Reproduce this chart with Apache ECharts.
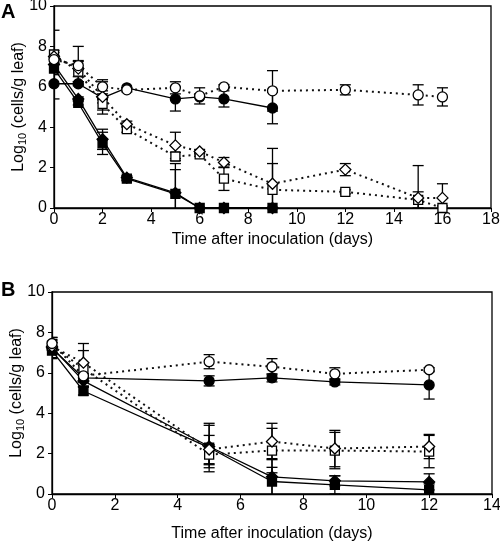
<!DOCTYPE html>
<html><head><meta charset="utf-8">
<script src="https://cdn.jsdelivr.net/npm/echarts@6/dist/echarts.min.js"></script>
<style>html,body{margin:0;padding:0;background:#fff}#c{width:500px;height:545px}</style>
</head><body><div id="c"></div>
<script>
// ---------- Panel A data ----------
const daysA8 = [0, 1, 2, 3, 5, 6, 7, 9];
const daysA11 = [0, 1, 2, 3, 5, 6, 7, 9, 12, 15, 16];
const filledCircleA = [6.15, 6.15, 5.45, 5.95, 5.4, 5.5, 5.4, 4.95];
const filledCircleAErr = [0, 0.1, 0.8, 0, 0.6, 0, 0.4, 0.78];
const filledDiamondA = [7.1, 5.4, 3.4, 1.5, 0.75, 0, 0, 0];
const filledDiamondAErr = [1.7, 0.1, 0.5, 0.1, 1.45, 0, 0, 0];
const filledSquareA = [6.9, 5.2, 3.2, 1.45, 0.7, 0, 0, 0];
const filledSquareAErr = [0.3, 0.1, 0.55, 0.1, 1.2, 0, 0, 0];
const openCircleA = [7.35, 7.05, 6.0, 5.85, 5.95, 5.55, 6.0, 5.8, 5.85, 5.6, 5.5];
const openCircleAErr = [0.2, 0.95, 0.35, 0.1, 0.3, 0.4, 0.1, 1.0, 0.25, 0.5, 0.45];
const openDiamondA = [7.5, 6.9, 5.5, 4.15, 3.1, 2.8, 2.25, 1.2, 1.9, 0.5, 0.5];
const openDiamondAErr = [0.2, 0.4, 0.3, 0.15, 0.65, 0.1, 0.25, 1.75, 0.3, 1.6, 0.7];
const openSquareA = [7.6, 6.75, 5.15, 3.9, 2.55, 2.65, 1.45, 0.9, 0.8, 0.4, 0.0];
const openSquareAErr = [0.2, 0.5, 0.3, 0.15, 0.2, 0.1, 0.58, 1.3, 0.1, 0.4, 0.1];

// ---------- Panel B data ----------
const daysB = [0, 1, 5, 7, 9, 12];
const filledCircleB = [7.2, 5.75, 5.6, 5.75, 5.55, 5.4];
const filledCircleBErr = [0.3, 0.2, 0.25, 0.2, 0.15, 0.7];
const filledDiamondB = [7.25, 5.6, 2.35, 0.85, 0.65, 0.6];
const filledDiamondBErr = [0.5, 0.3, 1.05, 0.9, 0.25, 0.4];
const filledSquareB = [7.1, 5.1, 2.3, 0.62, 0.45, 0.2];
const filledSquareBErr = [0.4, 0.2, 1.2, 0.7, 0.45, 0.3];
const openCircleB = [7.45, 5.85, 6.55, 6.3, 5.95, 6.15];
const openCircleBErr = [0.3, 0.5, 0.35, 0.4, 0.3, 0.1];
const openDiamondB = [7.3, 6.5, 2.2, 2.6, 2.25, 2.35];
const openDiamondBErr = [0.3, 0.95, 0.7, 0.9, 0.9, 0.6];
const openSquareB = [7.35, 6.2, 1.95, 2.15, 2.15, 2.1];
const openSquareBErr = [0.3, 0.9, 0.5, 1.1, 0.9, 0.8];

// ---------- tick labels / axis text ----------
const yTicks = [0, 2, 4, 6, 8, 10];
const xMaxA = 18, xMaxB = 14;
const xTitle = 'Time after inoculation (days)';
const panelLabels = ['A', 'B'];

const FONT = 'Liberation Sans, Arial, sans-serif';

function pairs(days, vals) { return days.map((d, i) => [d, vals[i]]); }
function triples(days, vals, errs) {
  return days.map((d, i) => [d, vals[i], errs[i]]).filter(t => t[2] > 0);
}

function lineSeries(g, days, vals, symbol, filled, dotted, size) {
  return {
    type: 'line', xAxisIndex: g, yAxisIndex: g,
    data: pairs(days, vals),
    symbol: symbol, symbolSize: size, showSymbol: true,
    itemStyle: { color: filled ? '#000' : '#fff', borderColor: '#000', borderWidth: 1.3 },
    lineStyle: dotted ? { color: '#111', width: 2, type: [2, 4], cap: 'butt' }
                      : { color: '#000', width: 1.3, type: 'solid' },
    z: dotted ? 4 : 3, animation: false, silent: true
  };
}

function errSeries(g, days, vals, errs) {
  return {
    type: 'custom', xAxisIndex: g, yAxisIndex: g, clip: true,
    data: triples(days, vals, errs), z: 2, animation: false, silent: true,
    renderItem: function (params, api) {
      const x = api.value(0), y = api.value(1), e = api.value(2);
      const t = api.coord([x, y + e]);
      const b = api.coord([x, y - e]);
      const w = 5.5;
      const st = { stroke: '#000', lineWidth: 1.3 };
      return {
        type: 'group', children: [
          { type: 'line', shape: { x1: t[0], y1: t[1], x2: b[0], y2: b[1] }, style: st },
          { type: 'line', shape: { x1: t[0] - w, y1: t[1], x2: t[0] + w, y2: t[1] }, style: st },
          { type: 'line', shape: { x1: b[0] - w, y1: b[1], x2: b[0] + w, y2: b[1] }, style: st }
        ]
      };
    }
  };
}

function xAxisDef(g, max, gap) {
  return {
    gridIndex: g, type: 'value', min: 0, max: max, interval: 2,
    name: xTitle, nameLocation: 'middle', nameGap: gap, nameMoveOverlap: false,
    nameTextStyle: { fontFamily: FONT, fontSize: 16, color: '#000' },
    axisLine: { lineStyle: { color: '#000', width: 1.3 } },
    axisTick: { show: true, inside: false, length: 4, lineStyle: { color: '#000' } },
    axisLabel: { fontFamily: FONT, fontSize: 16, color: '#000', margin: 4 },
    splitLine: { show: false }
  };
}
function yAxisDef(g, gap) {
  return {
    gridIndex: g, type: 'value', min: yTicks[0], max: yTicks[yTicks.length - 1], interval: 2,
    name: '{a|Log}{s|10}{a| (cells/g leaf)}', nameLocation: 'middle', nameGap: gap, nameMoveOverlap: false,
    nameTextStyle: {
      fontFamily: FONT, color: '#000',
      rich: {
        a: { fontFamily: FONT, fontSize: 16, color: '#000' },
        s: { fontFamily: FONT, fontSize: 11, color: '#000', verticalAlign: 'bottom', padding: [8, 0, 0, 0] }
      }
    },
    axisLine: { lineStyle: { color: '#000', width: 1.3 } },
    axisTick: { show: true, inside: false, length: 4, lineStyle: { color: '#000' } },
    axisLabel: { fontFamily: FONT, fontSize: 16, color: '#000', margin: 7 },
    splitLine: { show: false }
  };
}

const series = [
  // panel A error bars
  errSeries(0, daysA8, filledCircleA, filledCircleAErr),
  errSeries(0, daysA8, filledDiamondA, filledDiamondAErr),
  errSeries(0, daysA8, filledSquareA, filledSquareAErr),
  errSeries(0, daysA11, openCircleA, openCircleAErr),
  errSeries(0, daysA11, openDiamondA, openDiamondAErr),
  errSeries(0, daysA11, openSquareA, openSquareAErr),
  // panel A lines
  lineSeries(0, daysA8, filledCircleA, 'circle', true, false, 10),
  lineSeries(0, daysA8, filledDiamondA, 'diamond', true, false, 11),
  lineSeries(0, daysA8, filledSquareA, 'rect', true, false, 9),
  lineSeries(0, daysA11, openSquareA, 'rect', false, true, 9),
  lineSeries(0, daysA11, openDiamondA, 'diamond', false, true, 11),
  lineSeries(0, daysA11, openCircleA, 'circle', false, true, 10),
  // panel B error bars
  errSeries(1, daysB, filledCircleB, filledCircleBErr),
  errSeries(1, daysB, filledDiamondB, filledDiamondBErr),
  errSeries(1, daysB, filledSquareB, filledSquareBErr),
  errSeries(1, daysB, openCircleB, openCircleBErr),
  errSeries(1, daysB, openDiamondB, openDiamondBErr),
  errSeries(1, daysB, openSquareB, openSquareBErr),
  // panel B lines
  lineSeries(1, daysB, filledCircleB, 'circle', true, false, 10),
  lineSeries(1, daysB, filledDiamondB, 'diamond', true, false, 11),
  lineSeries(1, daysB, filledSquareB, 'rect', true, false, 9),
  lineSeries(1, daysB, openSquareB, 'rect', false, true, 9),
  lineSeries(1, daysB, openDiamondB, 'diamond', false, true, 11),
  lineSeries(1, daysB, openCircleB, 'circle', false, true, 10)
];

const chart = echarts.init(document.getElementById('c'), null, { renderer: 'canvas' });
chart.setOption({
  backgroundColor: '#fff',
  animation: false,
  textStyle: { fontFamily: FONT },
  grid: [
    { left: 54, top: 6, width: 437, height: 202, show: true, borderColor: '#000', borderWidth: 1.3, backgroundColor: 'transparent', containLabel: false, outerBoundsMode: 'none' },
    { left: 52, top: 292, width: 440, height: 202, show: true, borderColor: '#000', borderWidth: 1.3, backgroundColor: 'transparent', containLabel: false, outerBoundsMode: 'none' }
  ],
  xAxis: [xAxisDef(0, xMaxA, 24), xAxisDef(1, xMaxB, 32)],
  yAxis: [yAxisDef(0, 26), yAxisDef(1, 26)],
  graphic: [
    { type: 'text', left: 1, top: 2, style: { text: panelLabels[0], font: 'bold 20px ' + FONT, fill: '#000' } },
    { type: 'text', left: 1, top: 280, style: { text: panelLabels[1], font: 'bold 20px ' + FONT, fill: '#000' } }
  ],
  series: series
});
</script>
</body></html>
